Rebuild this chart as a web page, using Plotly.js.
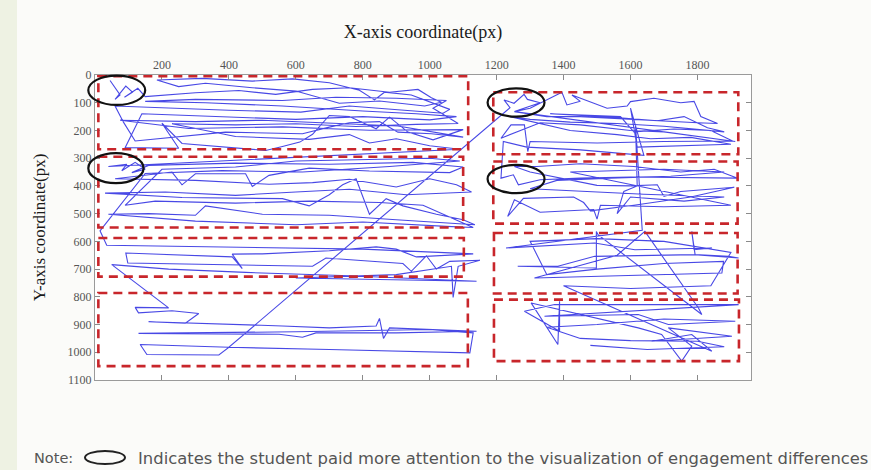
<!DOCTYPE html>
<html>
<head>
<meta charset="utf-8">
<script src="https://cdn.plot.ly/plotly-3.0.1.min.js"></script>
<style>
html,body{margin:0;padding:0;background:#fbfbf9;}
#chart{width:871px;height:470px;}
</style>
</head>
<body>
<div id="chart"></div>
<script>
// ---- axes ----
const xRange = [0, 1960];
const yRange = [1100, 0];
const xTickVals = [200, 400, 600, 800, 1000, 1200, 1400, 1600, 1800];
const yTickVals = [0, 100, 200, 300, 400, 500, 600, 700, 800, 900, 1000, 1100];

// ---- gaze scanpath (x px, y px), read region by region ----
const pathTopLeft = [
  [45,20],[75,72],[60,88],[92,40],[112,62],[88,80],[128,48],[150,78],
  [300,64],[430,56],[540,70],[650,52],[760,46],[880,62],[965,52],[1005,82],[1035,98],
  [985,112],[850,94],[730,102],[655,78],[600,58],[470,46],[330,30],[250,42],[185,18],
  [320,12],[470,22],[590,14],[700,28],[790,55],[835,90],[865,62],[945,72],[1060,124],[1040,138],
  [760,112],[615,134],[400,127],[210,118],[60,112],
  [85,170],[120,238],
  [390,206],[620,212],[700,188],[760,172],[850,168],[905,206],[1005,212],[1100,224],
  [905,184],[700,174],[500,163],[300,168],[75,163],
  [280,193],[560,187],[820,199],[1100,197],
  [1010,234],[935,206],[880,152],[840,194],[760,150],[700,146],[650,214],[612,242],[560,258],[510,272],
  [260,247],[200,174],[250,264],[90,262],
  [140,140],[350,150],[600,160],[800,150],[1000,162],[1080,150],[960,140],[800,130],[560,112],[330,100],[150,95],
  [300,88],[560,92],[720,80],[900,84],[1050,92],[1010,120],[1085,175],[960,178],[780,186],[600,176],[420,180],[230,176],
  [420,222],[640,232],[760,215],[820,245],[900,230],[1000,255],[1090,268]
];
const pathUpperLeft = [
  [40,330],[95,322],[80,345],[120,315],[150,340],[110,352],[160,326],
  [420,318],[700,322],[950,315],[1100,332],[1060,352],
  [820,346],[640,336],[520,362],[470,402],[450,356],[300,356],[260,396],[230,350],[60,374],
  [300,380],[520,394],[650,388],[760,376],[900,404],[1000,374],[1080,396],[1125,422],
  [930,432],[760,412],[600,422],[420,434],[210,422],[30,426],
  [260,442],[560,446],[640,472],[700,432],[740,396],[780,374],[820,502],[870,446],[920,472],[1020,502],[1100,522],[1135,540],
  [900,522],[700,506],[500,502],[330,472],[300,506],[160,500],[40,502],
  [300,527],[600,540],[800,530],[1050,546],[1130,550],
  [980,470],[850,460],[640,455],[420,462],[180,455],[90,470],
  [200,340],[420,332],[600,310],[800,305],[1000,300],[1090,310],[880,330],[620,350],[380,345],[150,355]
];
const pathMidLeft = [
  [15,562],[35,614],[420,622],[800,628],[1130,645],
  [960,656],[900,628],[840,620],[700,634],[500,645],[410,646],[440,698],[410,656],[170,645],[92,642],[98,678],
  [420,684],[650,690],[690,660],[920,680],[945,708],[990,652],[1020,700],[1060,672],[1150,668],
  [1085,690],[1070,802],[1065,690],[900,720],[600,732],[1140,744],
  [760,724],[450,712],[220,700],[50,684]
];
const pathLowLeft = [
  [220,840],[120,838],[130,858],[230,850],[310,860],[270,895],[160,890],
  [560,905],[700,912],[840,905],[850,878],[862,950],[880,912],[1140,924],
  [900,930],[660,930],[620,946],[550,935],[130,932],
  [600,926],[1000,918],[1130,930],
  [1120,1002],[700,990],[400,982],[370,1010],[155,1008],[135,972],[400,982]
];
const pathTopRight = [
  [1240,118],[1222,90],[1252,102],[1282,70],[1292,88],[1330,100],[1253,132],
  [1300,120],[1395,62],[1410,108],[1450,95],[1425,72],[1530,120],
  [1590,112],[1600,96],[1670,84],[1750,100],[1790,95],[1810,150],[1860,175],[1800,172],
  [1620,160],[1450,150],[1350,150],[1253,132],
  [1913,240],[1700,205],[1600,200],[1450,180],[1330,172],
  [1213,228],[1243,180],[1283,180],[1293,276],[1300,240],
  [1500,245],[1700,240],[1905,238],
  [1840,200],[1730,195],[1610,205],[1570,150],
  [1360,140],[1520,150],[1680,165],[1760,150],[1830,190],[1880,205],
  [1700,185],[1560,175],[1420,170],[1300,160],[1240,150],
  [1420,200],[1560,215],[1660,230],[1780,225],[1900,250],
  [1620,260],[1600,120],[1640,290],[1450,270],[1290,260],[1220,240]
];
const pathUpperRight = [
  [1213,372],[1250,360],[1265,396],[1330,378],[1450,372],[1600,368],[1920,372],
  [1850,340],[1750,350],[1610,330],[1450,320],[1320,330],[1253,330],
  [1300,350],[1500,398],[1600,400],[1680,396],[1700,438],[1750,420],[1910,405],
  [1780,440],[1610,470],[1480,490],[1460,460],[1430,440],[1280,445],[1233,510],[1253,450],
  [1330,495],[1490,485],[1500,520],[1510,470],[1700,475],[1900,470],
  [1420,350],[1560,345],[1700,340],[1880,350],[1720,365],[1540,372],[1380,380],[1300,410],
  [1480,420],[1640,430],[1880,440],[1760,455],[1600,440],[1560,500],[1580,420],
  [1620,400],[1615,180],[1635,560]
];
const pathMidRight = [
  [1228,624],[1493,606],[1613,630],[1843,624],[1790,630],[1783,564],[1793,648],[1923,660],[1893,654],
  [1793,648],[1493,654],[1383,690],[1263,690],[1498,696],[1498,564],[1503,576],[1813,864],
  [1803,840],[1643,564],[1560,650],[1313,732],[1873,714],[1878,672],
  [1700,680],[1500,700],[1350,720],[1300,600],[1500,590],[1700,600],[1900,640],[1840,760],[1600,770],[1400,760],
  [1843,996]
];
const pathLowRight = [
  [1783,936],[1663,960],[1903,942],
  [1713,912],[1783,978],[1753,1032],[1693,936],[1623,912],
  [1303,822],[1383,972],[1388,816],[1388,924],
  [1283,852],[1373,828],[1453,828],[1653,828],[1923,828],
  [1343,870],[1623,864],[1713,900],[1913,888],
  [1700,880],[1500,900],[1350,910],[1450,950],[1600,958],[1800,960],[1880,980],[1650,990],[1480,975]
];

// ---- areas of interest (dashed boxes): [x0, x1, y0, y1] ----
const aoiBoxes = [
  [10,1115,4,268],[10,1100,295,550],[10,1102,588,727],[10,1114,786,1050],
  [1190,1922,62,286],[1190,1920,312,536],[1192,1920,570,788],[1192,1924,810,1032]
];
// ---- attention ellipses: [x0, x1, y0, y1] ----
const attentionEllipses = [
  [-20,150,2,108],[-20,145,282,390],[1173,1343,48,150],[1173,1343,324,426]
];

const noteLabel = 'Note:';
const noteText = 'Indicates the student paid more attention to the visualization of engagement differences';

// ---- build ----
const fullPath = [].concat(pathTopLeft, pathUpperLeft, pathMidLeft, pathLowLeft,
                           pathTopRight, pathUpperRight, pathMidRight, pathLowRight);

const M = {l:95, r:120, t:75, b:90};
const W = 871, H = 470;
const pw = W - M.l - M.r, ph = H - M.t - M.b;
const pxX = px => (px - M.l) / pw;
const pxY = py => (H - M.b - py) / ph;
const dX = x => (x - xRange[0]) / (xRange[1] - xRange[0]);
const dY = y => (yRange[0] - y) / (yRange[0] - yRange[1]);

const shapes = [];
shapes.push({type:'rect', xref:'paper', yref:'paper', x0:pxX(0), x1:pxX(17), y0:pxY(470), y1:pxY(0),
  fillcolor:'#eef2e3', line:{width:0}, layer:'below'});
aoiBoxes.forEach(b => shapes.push({type:'rect', xref:'x', yref:'y', x0:b[0], x1:b[1], y0:b[2], y1:b[3],
  line:{color:'#c8262b', width:2.6, dash:'9px,6px'}, fillcolor:'rgba(0,0,0,0)', layer:'above'}));
attentionEllipses.forEach(e => shapes.push({type:'circle', xref:'paper', yref:'paper',
  x0:dX(e[0]), x1:dX(e[1]), y0:dY(e[2]), y1:dY(e[3]),
  line:{color:'#111', width:2.2}, layer:'above'}));
// legend icon in the note
shapes.push({type:'circle', xref:'paper', yref:'paper', x0:pxX(85), x1:pxX(125), y0:pxY(451), y1:pxY(464),
  line:{color:'#222', width:2}});

const trace = {
  x: fullPath.map(p => p[0]),
  y: fullPath.map(p => p[1]),
  type:'scatter', mode:'lines',
  line:{color:'rgba(40,40,225,0.85)', width:1.1},
  hoverinfo:'skip', showlegend:false
};

const axisCommon = {
  showgrid:false, zeroline:false, showline:true, linecolor:'#9a9a9a', linewidth:1,
  mirror:'ticks', ticks:'inside', ticklen:5, tickcolor:'#8a8a8a',
  tickfont:{family:'Liberation Serif', size:12, color:'#555'}, automargin:false
};

const layout = {
  width:W, height:H, margin:M,
  paper_bgcolor:'#fbfbf9', plot_bgcolor:'#ffffff',
  xaxis: Object.assign({}, axisCommon, {
    side:'top', range:xRange, tickvals:xTickVals, ticktext:xTickVals.map(String),
    title:{text:'X-axis coordinate(px)', font:{family:'Liberation Serif', size:18, color:'#1a1a1a'}, standoff:14}
  }),
  yaxis: Object.assign({}, axisCommon, {
    range:yRange, tickvals:yTickVals, ticktext:yTickVals.map(String),
    title:{text:'Y-axis coordinate(px)', font:{family:'Liberation Serif', size:17, color:'#1a1a1a'}, standoff:17}
  }),
  shapes: shapes,
  annotations: [
    {xref:'paper', yref:'paper', x:pxX(32), y:pxY(458), xanchor:'left', yanchor:'middle', showarrow:false,
     text:noteLabel, font:{family:'DejaVu Sans', size:14.5, color:'#555'}},
    {xref:'paper', yref:'paper', x:pxX(136), y:pxY(458), xanchor:'left', yanchor:'middle', showarrow:false,
     text:noteText, font:{family:'DejaVu Sans', size:16.4, color:'#555'}}
  ]
};

Plotly.newPlot('chart', [trace], layout, {staticPlot:true, displayModeBar:false});
</script>
</body>
</html>
